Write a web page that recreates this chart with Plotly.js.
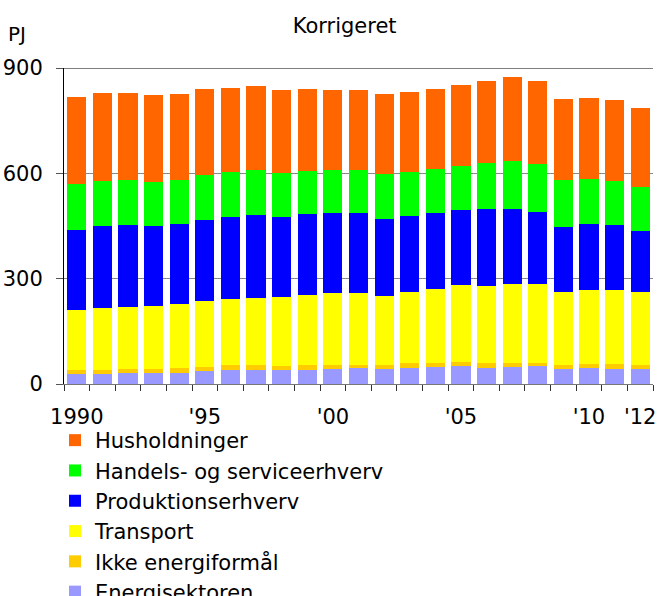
<!DOCTYPE html>
<html>
<head>
<meta charset="utf-8">
<script src="https://cdn.plot.ly/plotly-3.0.1.min.js"></script>
<style>html,body{margin:0;padding:0;background:#fff;}#chart{width:659px;height:596px;}</style>
</head>
<body>
<div id="chart"></div>
<script>
const years = ["1990","1991","1992","1993","1994","1995","1996","1997","1998","1999","2000","2001","2002","2003","2004","2005","2006","2007","2008","2009","2010","2011","2012"];
const yearLabels = ["1990","","","","","'95","","","","","'00","","","","","'05","","","","","'10","","'12"];
const energisektoren = [28,28,30,30,30,36,39,39,39,39,42,45,42,45,48,50,45,48,50,42,45,42,42];
const ikkeEnergiformaal = [11,11,12,12,15,12,14,14,11,14,11,8,11,14,11,12,14,11,9,11,11,14,11];
const transport = [171,177,177,180,183,188,189,192,198,200,205,205,199,202,213,219,219,225,225,208,211,211,208];
const produktionserhverv = [229,234,233,228,228,232,233,236,227,231,229,229,218,217,215,214,220,214,206,186,188,185,174];
const handelsService = [131,128,130,126,126,127,130,129,126,123,123,123,129,127,125,127,132,137,138,135,129,126,126];
const husholdninger = [248,252,248,248,245,246,239,240,237,234,228,228,228,227,229,230,234,240,236,230,231,232,226];

const seriesNames = ["Energisektoren","Ikke energiformål","Transport","Produktionserhverv","Handels- og serviceerhverv","Husholdninger"];
const seriesValues = [energisektoren, ikkeEnergiformaal, transport, produktionserhverv, handelsService, husholdninger];
const seriesColors = ["#9999FF","#FFCC00","#FFFF00","#0000FF","#00FF00","#FF6600"];

const font = "DejaVu Sans, Verdana, sans-serif";
const traces = seriesNames.map((n, i) => ({
  type: "bar",
  name: n,
  x: years,
  y: seriesValues[i],
  marker: {color: seriesColors[i], line: {width: 0}},
  hoverinfo: "name+y"
}));

const layout = {
  width: 659, height: 596,
  margin: {l: 64, r: 6, t: 68, b: 212, pad: 0, autoexpand: false},
  paper_bgcolor: "#fff", plot_bgcolor: "#fff",
  barmode: "stack",
  bargap: 0.25,
  font: {family: font, size: 21, color: "#000"},
  title: {text: "Korrigeret", font: {family: font, size: 21, color: "#000"},
          xref: "container", x: 0.523, xanchor: "center",
          yref: "container", y: 1 - 26/596, yanchor: "middle"},
  xaxis: {
    type: "category",
    tickmode: "array", tickvals: years, ticktext: yearLabels,
    tickson: "boundaries",
    tickangle: 0,
    automargin: false,
    ticks: "outside", ticklen: 6, tickcolor: "#333", tickwidth: 1,
    ticklabelstandoff: 14,
    showline: true, linecolor: "#777", linewidth: 1,
    showgrid: false, zeroline: false,
    tickfont: {family: font, size: 21, color: "#000"},
    fixedrange: true
  },
  yaxis: {
    range: [0, 900],
    automargin: false,
    tickmode: "array", tickvals: [0, 300, 600, 900],
    ticks: "outside", ticklen: 7, tickcolor: "#555", tickwidth: 1,
    ticklabelstandoff: 9,
    showline: true, linecolor: "#000", linewidth: 1,
    showgrid: true, gridcolor: "#888", gridwidth: 1,
    zeroline: false,
    tickfont: {family: font, size: 21, color: "#000"},
    fixedrange: true
  },
  shapes: [{type: "line", xref: "paper", yref: "y", x0: 0, x1: 1, y0: 900, y1: 900,
            line: {color: "#000", width: 1}}],
  annotations: [{text: "PJ", xref: "paper", yref: "paper",
                 x: (6 - 64) / 589, xanchor: "left", y: 1 + (68 - 34) / 316, yanchor: "middle",
                 showarrow: false, font: {family: font, size: 20, color: "#000"}}],
  showlegend: true,
  legend: {
    traceorder: "reversed",
    orientation: "v",
    x: (55 - 64) / 589, xanchor: "left",
    y: -(420 - 384) / 316, yanchor: "top",
    font: {family: font, size: 21, color: "#000"},
    bgcolor: "rgba(0,0,0,0)", borderwidth: 0,
    tracegroupgap: 0
  }
};

Plotly.newPlot("chart", traces, layout, {displayModeBar: false, staticPlot: true});
</script>
</body>
</html>
